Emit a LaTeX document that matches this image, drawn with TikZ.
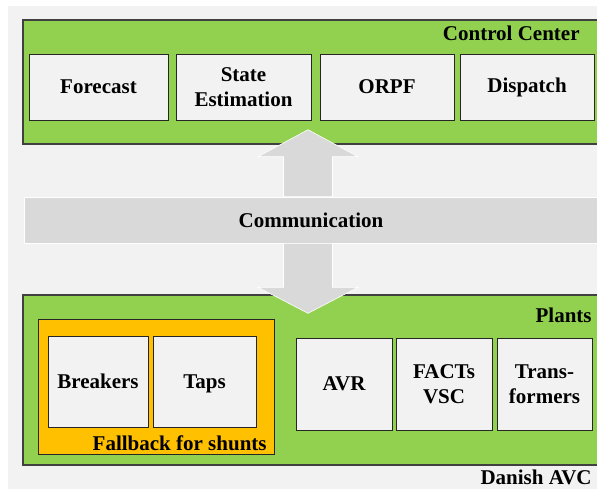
\documentclass[tikz,border=0pt]{standalone}
\usepackage{fontspec}
\setmainfont{Liberation Serif}
\usepackage{tikz}
\usetikzlibrary{calc,positioning}

\definecolor{ccgreen}{HTML}{92D050}
\definecolor{fborange}{HTML}{FFC000}
\definecolor{bggray}{HTML}{F2F2F2}
\definecolor{commgray}{HTML}{D9D9D9}

\begin{document}
\begin{tikzpicture}[x=0.5pt,y=-0.5pt,
	every node/.style={font=\fontsize{10.5}{12.5}\selectfont\bfseries, align=center, inner sep=0pt},
	area/.style={draw=black!75, line width=0.75pt, fill=ccgreen},
	unit/.style={draw=black!85, line width=0.5pt, fill=bggray, minimum height=66*0.5pt},
	plant/.style={unit, minimum height=92*0.5pt},
	commarrow/.style={fill=commgray, draw=white, line width=0.3pt}]
	\useasboundingbox (0,0) rectangle (597,488);
	\fill[bggray] (8,6) rectangle (610,500);
	% control center
	\node[area, minimum width=580*0.5pt, minimum height=124*0.5pt] (cc) at (313,82) {};
	\node[anchor=east] (cclabel) at (580,33) {Control Center};
	\node[unit, minimum width=139*0.5pt] (1) at (98.5,87) {Forecast};
	\node[unit, minimum width=135*0.5pt] (2) at (243.5,87) {State\\Estimation};
	\node[unit, minimum width=134*0.5pt] (3) at (387,87) {ORPF};
	\node[unit, minimum width=134*0.5pt] (4) at (527,87) {Dispatch};
	% plants
	\node[area, minimum width=580*0.5pt, minimum height=170*0.5pt] (pl) at (313,380) {};
	\node[anchor=east] (pllabel) at (592,315) {Plants};
	\node[draw=black!85, line width=0.5pt, fill=fborange, minimum width=236*0.5pt, minimum height=135*0.5pt] (fb) at (156,386.5) {};
	\node[anchor=east] (fblabel) at (267,443) {Fallback for shunts};
	\node[unit, minimum width=100*0.5pt, minimum height=91*0.5pt] (5) at (98,381.5) {Breakers};
	\node[unit, minimum width=103*0.5pt, minimum height=91*0.5pt, text depth=0pt] (6) at (204.5,381.5) {Taps};
	\node[plant, minimum width=96*0.5pt] (7) at (344,384) {AVR};
	\node[plant, minimum width=96*0.5pt] (8) at (444,384) {FACTs\\VSC};
	\node[plant, minimum width=95*0.5pt] (9) at (544.5,384) {Trans-\\formers};
	\node[anchor=east] (avc) at (592,477) {Danish AVC};
	% communication
	\node[fill=commgray, draw=white, line width=0.3pt, minimum width=574*0.5pt, minimum height=46*0.5pt] (comm) at (311,220) {Communication};
	\coordinate (up) at ($(comm.north)+(-3,0)$);
	\coordinate (down) at ($(comm.south)+(-3,0)$);
	\filldraw[commarrow] ($(up)+(-24.5,0)$) -- ++(0,-40) -- ++(-25.5,0) -- ($(up)+(0,-67)$)
		-- ($(up)+(50,-40)$) -- ++(-25.5,0) -- ($(up)+(24.5,0)$) -- cycle;
	\filldraw[commarrow] ($(down)+(-24.5,0)$) -- ++(0,44) -- ++(-25.5,0) -- ($(down)+(0,70)$)
		-- ($(down)+(50,44)$) -- ++(-25.5,0) -- ($(down)+(24.5,0)$) -- cycle;
\end{tikzpicture}
\end{document}
